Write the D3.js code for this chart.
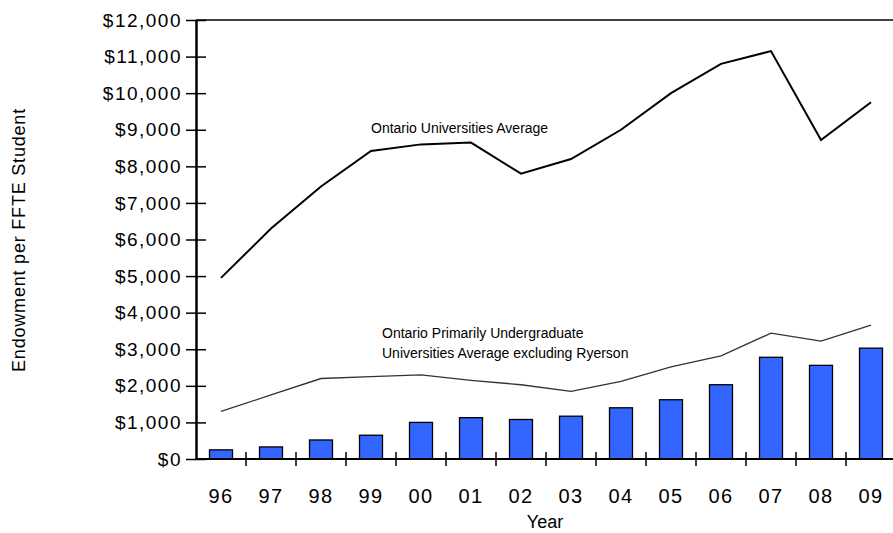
<!DOCTYPE html>
<html><head><meta charset="utf-8">
<script src="https://cdn.jsdelivr.net/npm/d3@7"></script>
<style>body{margin:0;background:#fff}text{font-family:Arial,"Liberation Sans",sans-serif}</style>
</head><body><div id="chart"></div>
<script>
var years=["96","97","98","99","00","01","02","03","04","05","06","07","08","09"];
var ontarioAvg=[4950,6300,7450,8420,8600,8650,7800,8200,9000,10000,10800,11150,8720,9750];
var undergradAvg=[1300,1750,2200,2250,2300,2150,2030,1850,2120,2520,2820,3440,3220,3660];
var ryerson=[250,330,520,650,1000,1130,1080,1170,1400,1620,2030,2780,2560,3030];
var yTicks=[0,1000,2000,3000,4000,5000,6000,7000,8000,9000,10000,11000,12000];

var W=893,H=533,padL=196,padT=20,baseY=459;
var svg=d3.select("#chart").append("svg").attr("width",W).attr("height",H);
var x=d3.scaleBand().domain(years).range([padL,padL+700]).paddingInner(0.54).paddingOuter(0.27);
var xc=function(d){return x(d)+x.bandwidth()/2;};
var y=d3.scaleLinear().domain([0,12000]).range([baseY,padT]);

svg.selectAll(".bar").data(ryerson).enter().append("rect")
  .attr("x",function(d,i){return x(years[i]);}).attr("width",x.bandwidth())
  .attr("y",function(d){return y(d);}).attr("height",function(d){return baseY-y(d);})
  .attr("fill","#3366ff").attr("stroke","#000").attr("stroke-width",1.3);

var line=d3.line().x(function(d,i){return xc(years[i]);}).y(function(d){return y(d);});
svg.append("path").datum(ontarioAvg).attr("d",line).attr("fill","none").attr("stroke","#000").attr("stroke-width",2);
svg.append("path").datum(undergradAvg).attr("d",line).attr("fill","none").attr("stroke","#333").attr("stroke-width",1.3);

svg.append("line").attr("x1",padL).attr("x2",W).attr("y1",padT).attr("y2",padT).attr("stroke","#000").attr("stroke-width",1.5);

var ya=svg.append("g").attr("transform","translate("+padL+",0)")
  .call(d3.axisLeft(y).tickValues(yTicks).tickSize(0).tickPadding(14).tickFormat(function(d){return "$"+d3.format(",")(d);}));
ya.select(".domain").attr("stroke-width",2.5);
ya.selectAll("text").attr("font-size",19).attr("letter-spacing",1.5).attr("fill","#000").attr("font-family","Arial,'Liberation Sans',sans-serif");
ya.selectAll(".tick").append("line").attr("x1",-10).attr("x2",10).attr("stroke","#000").attr("stroke-width",1.5);

var xa=svg.append("g").attr("transform","translate(0,"+baseY+")");
xa.append("line").attr("x1",padL).attr("x2",W).attr("stroke","#000").attr("stroke-width",2);
var step=x.step();
xa.selectAll(".tk").data(years).enter().append("line")
  .attr("x1",function(d){return xc(d)+step/2;}).attr("x2",function(d){return xc(d)+step/2;})
  .attr("y1",-7).attr("y2",7).attr("stroke","#000").attr("stroke-width",1.5);
xa.selectAll(".lb").data(years).enter().append("text")
  .attr("x",xc).attr("y",44).attr("text-anchor","middle").attr("font-size",20).attr("letter-spacing",1.5).text(function(d){return d;});

svg.append("text").attr("x",545).attr("y",528).attr("text-anchor","middle").attr("font-size",18).text("Year");
svg.append("text").attr("transform","translate(25,240) rotate(-90)").attr("text-anchor","middle").attr("font-size",18).attr("letter-spacing",0.8).text("Endowment per FFTE Student");

svg.append("text").attr("x",371).attr("y",133).attr("font-size",14).text("Ontario Universities Average");
svg.append("text").attr("x",382).attr("y",338).attr("font-size",14).text("Ontario Primarily Undergraduate");
svg.append("text").attr("x",382).attr("y",358).attr("font-size",14).text("Universities Average excluding Ryerson");
</script></body></html>
